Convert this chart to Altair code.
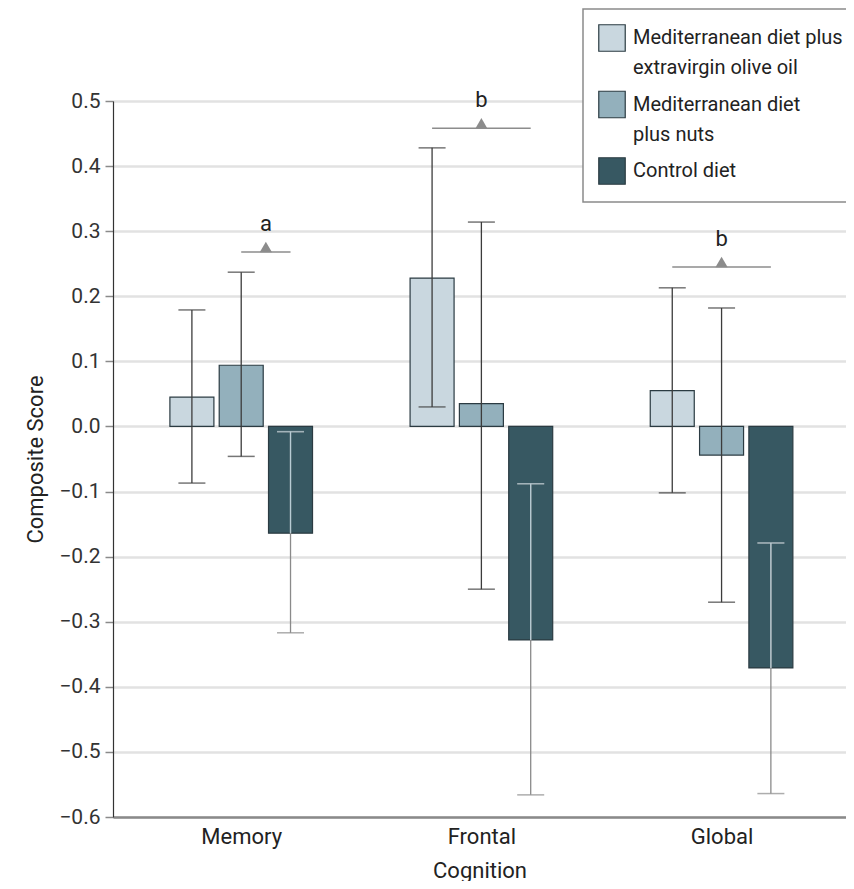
import json
import altair as alt
import pandas as pd

# ---- data ----
groups = ["Memory", "Frontal", "Global"]
series = [
    "Mediterranean diet plus extravirgin olive oil",
    "Mediterranean diet plus nuts",
    "Control diet",
]
legend_lines = [
    ["Mediterranean diet plus", "extravirgin olive oil"],
    ["Mediterranean diet", "plus nuts"],
    ["Control diet"],
]
colors = ["#c9d7df", "#93b0bc", "#375862"]

mean_olive = [0.045, 0.228, 0.055]
mean_nuts = [0.094, 0.035, -0.044]
mean_control = [-0.164, -0.328, -0.371]

lo_olive = [-0.087, 0.030, -0.102]
lo_nuts = [-0.046, -0.250, -0.270]
lo_control = [-0.317, -0.566, -0.564]

hi_olive = [0.179, 0.428, 0.213]
hi_nuts = [0.237, 0.314, 0.182]
hi_control = [-0.008, -0.088, -0.179]

ann_group = ["Memory", "Frontal", "Global"]
ann_from = [series[1], series[0], series[0]]
ann_to = [series[2], series[2], series[2]]
ann_y = [0.268, 0.458, 0.245]
ann_label = ["a", "b", "b"]

# ---- build tables ----
STEP = 0.2053  # spacing between bars within a group, in group units
means = [mean_olive, mean_nuts, mean_control]
los = [lo_olive, lo_nuts, lo_control]
his = [hi_olive, hi_nuts, hi_control]

rows = []
for si, s in enumerate(series):
    for gi, g in enumerate(groups):
        rows.append(dict(group=g, series=s, xpos=gi + (si - 1) * STEP,
                         mean=means[si][gi], ci_lo=los[si][gi], ci_hi=his[si][gi]))
df = pd.DataFrame(rows)

arows = []
for g, f, t, y, lab in zip(ann_group, ann_from, ann_to, ann_y, ann_label):
    gi = groups.index(g)
    x1 = gi + (series.index(f) - 1) * STEP
    x2 = gi + (series.index(t) - 1) * STEP
    arows.append(dict(x1=x1, x2=x2, xm=(x1 + x2) / 2, y=y, label=lab))
adf = pd.DataFrame(arows)

FONT = "Roboto, sans-serif"
XT = "Cognition"
YT = "Composite Score"
W = 733
xscale = alt.Scale(domain=[-0.513, -0.513 + W / 243.5], nice=False, zero=False)
yscale = alt.Scale(domain=[-0.6, 0.5], nice=False)

label_expr_x = json.dumps(groups) + "[datum.value]"
legend_expr = " : ".join(
    f"datum.label == {json.dumps(s)} ? {json.dumps(l)}" for s, l in zip(series, legend_lines)
) + " : datum.label"

xaxis = alt.Axis(values=[0, 1, 2], labelExpr=label_expr_x, ticks=False, grid=False,
                 domainColor="#8a8a8a", domainWidth=2.5, labelFontSize=22,
                 labelColor="#222", labelPadding=9, titleFontSize=22,
                 titleFontWeight="normal",
                 titleColor="#222", titlePadding=13, labelFont=FONT, titleFont=FONT)
yaxis = alt.Axis(values=[round(-0.6 + 0.1 * i, 1) for i in range(12)], format=".1f",
                 grid=True, gridColor="#e2e2e2", gridWidth=2.5,
                 domainColor="#333", domainWidth=1.2, tickColor="#8a8a8a",
                 tickSize=8, tickWidth=1.5, labelFontSize=21, labelColor="#333",
                 labelPadding=5, titleFontSize=22, titleColor="#222",
                 titleFontWeight="normal",
                 titlePadding=11, labelFont=FONT, titleFont=FONT)

base = alt.Chart(df)

bars = base.mark_bar(size=44, stroke="#2b3b42", strokeWidth=1.2).encode(
    x=alt.X("xpos:Q", scale=xscale, axis=xaxis, title=XT),
    y=alt.Y("mean:Q", scale=yscale, axis=yaxis, title=YT),
    y2=alt.datum(0),
    color=alt.Color("series:N", scale=alt.Scale(domain=series, range=colors),
                    legend=alt.Legend(title=None, orient="none", legendX=470, legendY=-92,
                                      symbolType="square", symbolSize=700,
                                      symbolStrokeColor="#2b3b42", symbolStrokeWidth=1.2,
                                      symbolOpacity=1,
                                      labelFontSize=20, labelFont=FONT, labelColor="#222",
                                      labelExpr=legend_expr, labelLimit=400,
                                      labelOffset=7, rowPadding=10.5,
                                      padding=15, fillColor="white",
                                      strokeColor="#8a8a8a")),
)

err_color = alt.condition(alt.datum.series == series[2], alt.value("#8a8a8a"), alt.value("#3c3c3c"))

err = base.mark_rule(strokeWidth=1.3).encode(
    x=alt.X("xpos:Q", scale=xscale, title=XT),
    y=alt.Y("ci_lo:Q", scale=yscale, title=YT),
    y2="ci_hi:Q",
    color=err_color,
)

caps = base.transform_fold(["ci_lo", "ci_hi"], as_=["k", "v"]).mark_tick(
    orient="horizontal", size=27, thickness=1.5).encode(
    x=alt.X("xpos:Q", scale=xscale, title=XT),
    y=alt.Y("v:Q", scale=yscale, title=YT),
    color=err_color,
)

ctrl = base.transform_filter(alt.datum.series == series[2]).transform_calculate(
    inner_lo="max(datum.ci_lo, datum.mean)")
inner = ctrl.mark_rule(strokeWidth=1.3, color="#b8ccd4").encode(
    x=alt.X("xpos:Q", scale=xscale, title=XT),
    y=alt.Y("ci_hi:Q", scale=yscale, title=YT),
    y2="inner_lo:Q",
)
inner_cap = ctrl.mark_tick(orient="horizontal", size=27, thickness=1.5, color="#b8ccd4").encode(
    x=alt.X("xpos:Q", scale=xscale, title=XT),
    y=alt.Y("ci_hi:Q", scale=yscale, title=YT),
)

abase = alt.Chart(adf)
arule = abase.mark_rule(color="#8c8c8c", strokeWidth=1.5).encode(
    x=alt.X("x1:Q", scale=xscale, title=XT),
    x2="x2:Q",
    y=alt.Y("y:Q", scale=yscale, title=YT),
)
atri = abase.mark_point(shape="triangle-up", filled=True, size=150, color="#8c8c8c",
                        opacity=1, yOffset=-5).encode(
    x=alt.X("xm:Q", scale=xscale, title=XT),
    y=alt.Y("y:Q", scale=yscale, title=YT),
)
atext = abase.mark_text(dy=-28, fontSize=22, font=FONT, color="#222").encode(
    x=alt.X("xm:Q", scale=xscale, title=XT),
    y=alt.Y("y:Q", scale=yscale, title=YT),
    text="label:N",
)

chart = alt.layer(bars, err, caps, inner, inner_cap, arule, atri, atext).properties(
    width=W, height=716,
    autosize=alt.AutoSizeParams(type="none"),
    padding={"left": 105, "top": 93, "right": 0, "bottom": 64},
).configure_view(stroke=None).configure(
    font=FONT, style={"guide-label": {"lineHeight": 30}}
).configure_legend(strokeWidth=1.5)

chart.save("out.html", embed_options={"renderer": "svg", "actions": False})
